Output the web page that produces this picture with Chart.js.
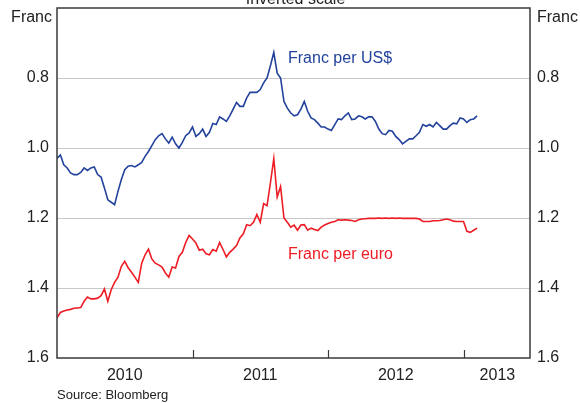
<!DOCTYPE html>
<html>
<head>
<meta charset="utf-8">
<script src="https://cdn.jsdelivr.net/npm/chart.js@4.4.1/dist/chart.umd.min.js"></script>
<style>
  html, body { margin: 0; padding: 0; background: #ffffff; }
  canvas { display: block; }
</style>
</head>
<body>
<canvas id="c" width="580" height="403" style="width:580px;height:403px"></canvas>
<script>
// ---- Data ----
const startYear = 2010;        // first observation
const stepYears = 0.025;       // sampling interval (years)
const yearLabels = ['2010', '2011', '2012', '2013'];
const yearTicks = [2011, 2012, 2013];
const yTickValues = [0.6, 0.8, 1.0, 1.2, 1.4, 1.6];

const francPerUSD = [
  1.030, 1.020, 1.048, 1.057, 1.071, 1.076, 1.076, 1.070, 1.057, 1.064,
  1.057, 1.054, 1.076, 1.083, 1.114, 1.148, 1.155, 1.162, 1.124, 1.090,
  1.062, 1.052, 1.050, 1.054, 1.048, 1.041, 1.024, 1.010, 0.993, 0.976,
  0.965, 0.959, 0.974, 0.986, 0.969, 0.988, 1.000, 0.984, 0.965, 0.957,
  0.940, 0.967, 0.959, 0.946, 0.967, 0.955, 0.930, 0.933, 0.911, 0.917,
  0.924, 0.908, 0.889, 0.870, 0.881, 0.881, 0.857, 0.841, 0.841, 0.841,
  0.833, 0.814, 0.800, 0.765, 0.727, 0.786, 0.800, 0.867, 0.886, 0.900,
  0.908, 0.905, 0.889, 0.867, 0.895, 0.914, 0.919, 0.929, 0.940, 0.940,
  0.946, 0.950, 0.933, 0.917, 0.919, 0.908, 0.900, 0.919, 0.917, 0.908,
  0.911, 0.917, 0.911, 0.911, 0.924, 0.946, 0.959, 0.962, 0.950, 0.952,
  0.967, 0.976, 0.988, 0.981, 0.974, 0.974, 0.965, 0.955, 0.933, 0.938,
  0.933, 0.940, 0.927, 0.936, 0.946, 0.946, 0.936, 0.929, 0.931, 0.914,
  0.917, 0.927, 0.919, 0.917, 0.908
];

const francPerEuro = [
  1.485, 1.470, 1.466, 1.463, 1.461, 1.458, 1.457, 1.456, 1.438, 1.426,
  1.431, 1.431, 1.429, 1.422, 1.403, 1.438, 1.405, 1.384, 1.369, 1.338,
  1.324, 1.342, 1.355, 1.369, 1.384, 1.329, 1.305, 1.289, 1.317, 1.329,
  1.334, 1.340, 1.357, 1.369, 1.340, 1.343, 1.310, 1.298, 1.270, 1.250,
  1.260, 1.271, 1.292, 1.289, 1.302, 1.305, 1.290, 1.295, 1.270, 1.290,
  1.311, 1.298, 1.289, 1.279, 1.257, 1.245, 1.219, 1.222, 1.212, 1.190,
  1.212, 1.159, 1.165, 1.100, 1.030, 1.140, 1.110, 1.200, 1.212, 1.226,
  1.220, 1.235, 1.220, 1.219, 1.235, 1.229, 1.233, 1.236, 1.226, 1.220,
  1.216, 1.212, 1.210, 1.205, 1.206, 1.205, 1.206, 1.207, 1.210, 1.205,
  1.203, 1.202, 1.201, 1.201, 1.201, 1.200, 1.201, 1.200, 1.201, 1.200,
  1.201, 1.200, 1.201, 1.201, 1.201, 1.201, 1.201, 1.203, 1.210, 1.210,
  1.210, 1.208, 1.208, 1.207, 1.205, 1.203, 1.205, 1.209, 1.210, 1.210,
  1.210, 1.238, 1.241, 1.235, 1.229
];

// ---- Styles ----
const BLUE = '#22429c';
const RED = '#ee1c25';
const TEXT = '#222222';
const FONT = '"Liberation Sans", Arial, sans-serif';

const toPoints = arr => arr.map((v, i) => ({ x: startYear + i * stepYears, y: v }));

const extras = {
  id: 'extras',
  beforeDatasetsDraw(chart) {
    const { ctx, chartArea: a, scales } = chart;
    ctx.save();
    ctx.strokeStyle = '#3a3a3a';
    ctx.lineWidth = 1.2;
    yearTicks.forEach(yr => {
      const px = Math.round(scales.x.getPixelForValue(yr)) + 0.5;
      ctx.beginPath();
      ctx.moveTo(px, a.bottom);
      ctx.lineTo(px, a.bottom - 8);
      ctx.stroke();
    });
    ctx.restore();
  },
  afterDraw(chart) {
    const { ctx, chartArea: a } = chart;
    ctx.save();
    ctx.strokeStyle = '#3a3a3a';
    ctx.lineWidth = 1.5;
    ctx.strokeRect(a.left, a.top, a.right - a.left, a.bottom - a.top);
    ctx.font = '16px ' + FONT;
    ctx.fillStyle = TEXT;
    ctx.textBaseline = 'middle';
    ctx.textAlign = 'right';
    ctx.fillText('Franc', a.left - 5, 18);
    ctx.textAlign = 'left';
    ctx.fillText('Franc', a.right + 7, 18);
    ctx.textAlign = 'center';
    ctx.textBaseline = 'alphabetic';
    ctx.fillText('Inverted scale', (a.left + a.right) / 2 + 2, 3.5);
    ctx.textAlign = 'left';
    ctx.textBaseline = 'middle';
    ctx.fillStyle = BLUE;
    ctx.fillText('Franc per US$', 288, 59);
    ctx.fillStyle = RED;
    ctx.fillText('Franc per euro', 288, 255);
    ctx.fillStyle = TEXT;
    ctx.font = '13px ' + FONT;
    ctx.fillText('Source: Bloomberg', a.left, 395);
    ctx.restore();
  }
};

const yTickCfg = {
  stepSize: 0.2,
  color: TEXT,
  font: { family: FONT, size: 16 },
  callback: v => (Math.abs(v - 0.6) < 1e-6 ? '' : v.toFixed(1))
};

const noPad = (s) => { s.paddingTop = 0; s.paddingBottom = 0; s.paddingLeft = 0; s.paddingRight = 0; };

new Chart(document.getElementById('c'), {
  type: 'line',
  data: {
    datasets: [
      { label: 'Franc per US$', data: toPoints(francPerUSD), borderColor: BLUE, borderWidth: 1.6,
        pointRadius: 0, tension: 0, fill: false, yAxisID: 'y' },
      { label: 'Franc per euro', data: toPoints(francPerEuro), borderColor: RED, borderWidth: 1.6,
        pointRadius: 0, tension: 0, fill: false, yAxisID: 'y' }
    ]
  },
  options: {
    responsive: false,
    animation: false,
    layout: { padding: { top: 8, left: 0, right: 0, bottom: 0 } },
    plugins: { legend: { display: false }, tooltip: { enabled: false } },
    scales: {
      x: {
        type: 'linear',
        min: 2010,
        max: 2010 + 473 / 135.5,
        grid: { display: false, drawTicks: false },
        border: { display: false },
        afterBuildTicks: s => { s.ticks = [2010.5, 2011.5, 2012.5, 2013.25].map(v => ({ value: v })); },
        ticks: {
          autoSkip: false,
          maxRotation: 0,
          padding: 8,
          color: TEXT,
          font: { family: FONT, size: 16 },
          callback: v => yearLabels[Math.floor(v) - 2010]
        },
        afterFit: s => { s.height = 45; noPad(s); }
      },
      y: {
        position: 'left',
        reverse: true,
        min: 0.6,
        max: 1.6,
        afterBuildTicks: s => { s.ticks = yTickValues.map(v => ({ value: v })); },
        ticks: Object.assign({ padding: 8 }, yTickCfg),
        grid: {
          drawTicks: false,
          lineWidth: 1,
          color: c => (c.tick && (Math.abs(c.tick.value - 0.6) < 1e-6 || Math.abs(c.tick.value - 1.6) < 1e-6)) ? 'rgba(0,0,0,0)' : '#c8c8c8'
        },
        border: { display: false },
        afterFit: s => { s.width = 57; noPad(s); }
      },
      y2: {
        position: 'right',
        reverse: true,
        min: 0.6,
        max: 1.6,
        afterBuildTicks: s => { s.ticks = yTickValues.map(v => ({ value: v })); },
        ticks: Object.assign({ padding: 7 }, yTickCfg),
        grid: { display: false, drawTicks: false },
        border: { display: false },
        afterFit: s => { s.width = 50; noPad(s); }
      }
    }
  },
  plugins: [extras]
});
</script>
</body>
</html>
